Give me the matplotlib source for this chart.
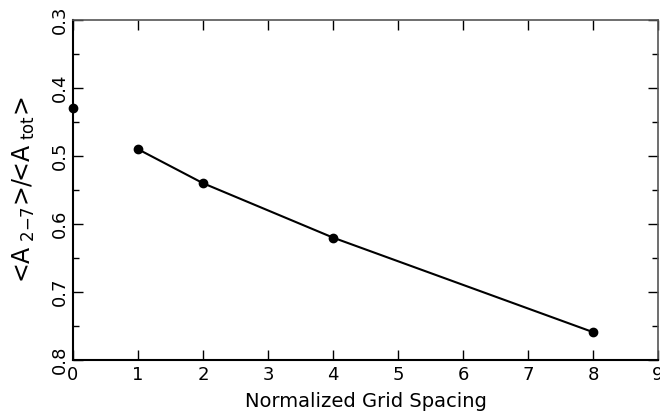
import matplotlib
matplotlib.use("Agg")
import matplotlib.pyplot as plt
from matplotlib.ticker import MultipleLocator

# data
x_single = [0]
y_single = [0.429]
x_line = [1, 2, 4, 8]
y_line = [0.490, 0.540, 0.620, 0.759]
xticks = [0, 1, 2, 3, 4, 5, 6, 7, 8, 9]
yticks = [0.3, 0.4, 0.5, 0.6, 0.7, 0.8]

plt.rcParams['font.family'] = ['DejaVu Sans']
fig = plt.figure(figsize=(6.6, 4.16), dpi=100)
ax = fig.add_axes([73/660, 1-360/416, (658-73)/660, (360-20)/416])

ax.plot(x_line, y_line, color='black', lw=1.5, marker='o', ms=6, clip_on=False, zorder=3)
ax.plot(x_single, y_single, color='black', lw=0, marker='o', ms=6, clip_on=False, zorder=3)

ax.set_xlim(0, 9)
ax.set_ylim(0.8, 0.3)
ax.set_xticks(xticks)
ax.set_xticklabels([str(t) for t in xticks])
ax.set_yticks(yticks)
ax.set_yticklabels([f"{t:.1f}" for t in yticks], rotation=90, va='center')
ax.yaxis.set_minor_locator(MultipleLocator(0.05))
ax.tick_params(axis='both', which='both', direction='in', top=True, right=True, labelsize=13)
ax.tick_params(axis='both', which='major', length=7, width=1)
ax.tick_params(axis='y', which='minor', length=4, width=1)
ax.tick_params(axis='x', pad=4)
ax.tick_params(axis='y', pad=3)
for k in ('left', 'bottom'):
    ax.spines[k].set_linewidth(1.5)
for k in ('top', 'right'):
    ax.spines[k].set_linewidth(1.2)
    ax.spines[k].set_color('#555555')

ax.set_xlabel('Normalized Grid Spacing', fontsize=14, labelpad=6)
ax.set_ylabel(r'<A$_{\ 2\mathrm{-}7}$>/<A$_{\ \mathrm{tot}}$>', fontsize=17, labelpad=10)

fig.savefig('out.png', dpi=100)
